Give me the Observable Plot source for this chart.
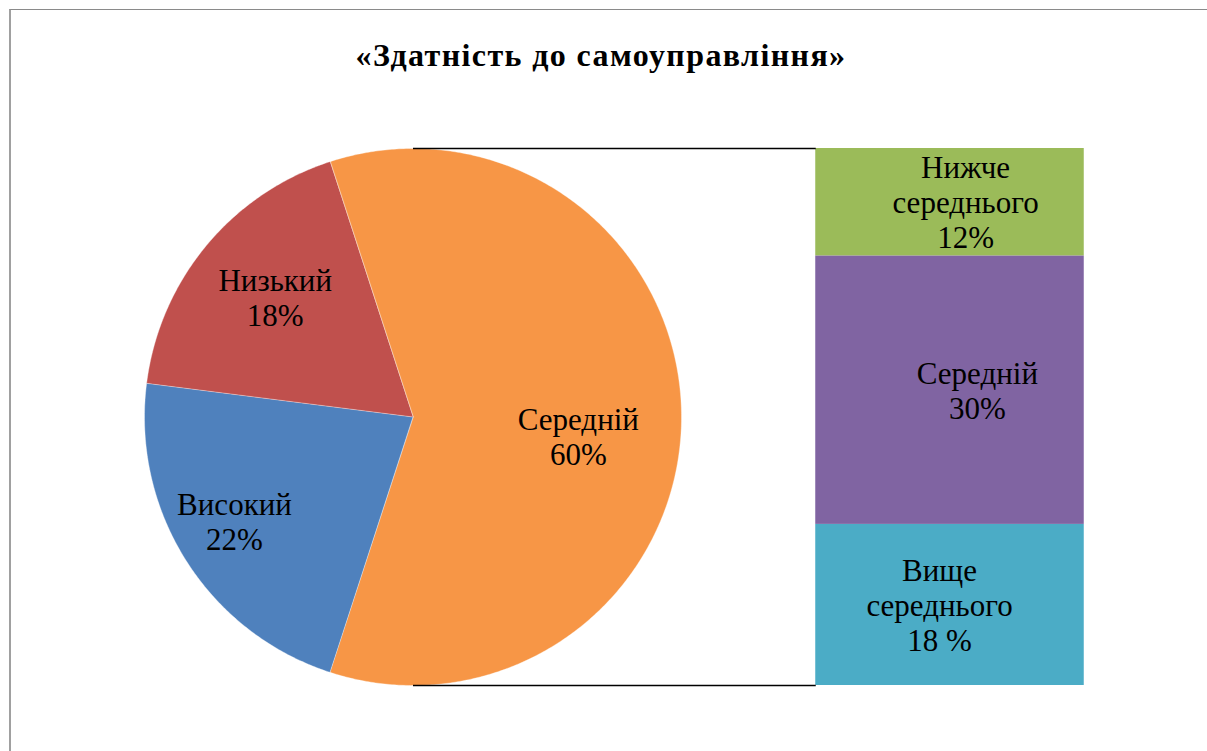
<!DOCTYPE html>
<html><head><meta charset="utf-8">
<script src="https://cdn.jsdelivr.net/npm/d3@7"></script>
<script src="https://cdn.jsdelivr.net/npm/@observablehq/plot@0.6"></script>
<style>
html,body{margin:0;padding:0;background:#fff;overflow:hidden;width:1207px;height:751px;}
#wrap{position:relative;width:1207px;height:751px;overflow:hidden;}
#chart{position:absolute;left:0;top:0;}
#frame{position:absolute;left:9px;top:9px;width:1400px;height:1000px;border-left:2px solid #a0a0a0;border-top:1px solid #8a8a8a;pointer-events:none;}
#title{position:absolute;left:0;top:39px;width:1202px;text-align:center;font-family:"Liberation Serif","Times New Roman",serif;font-weight:bold;font-size:32px;letter-spacing:1.4px;line-height:1;color:#000;}
</style></head><body>
<div id="wrap"><div id="chart"></div><div id="frame"></div><div id="title">«Здатність до самоуправління»</div></div>
<script>
// ---- data ----
const pieCategories = ["Середній", "Високий", "Низький"];
const pieValues = [60, 22, 18];
const pieLabels = ["60%", "22%", "18%"];
const barCategories = ["Вище\nсереднього", "Середній", "Нижче\nсереднього"];
const barValues = [18, 30, 12];
const barLabels = ["18 %", "30%", "12%"];

// ---- styles / layout ----
const pieColors = ["#F79646", "#4F81BD", "#C0504D"];
const barColors = ["#4BACC6", "#8064A2", "#9BBB59"];
const W = 1207, H = 751, R = 268.5, CX = 412.5, CY = 416.5;
const barX0 = 1.5, barX1 = 2.5;               // bar in pie-radius units
const labelRadius = [0.62, 0.77, 0.68];       // pie label placement (radius units)
const labelAngleShift = [6.8, 2.1, 1.4];      // degrees
const barLabelShift = [-0.039, 0.102, 0.058]; // radius units
const font = '"Liberation Serif","Times New Roman",serif';
const fontSize = 31;

// ---- geometry from data ----
const total = d3.sum(pieValues);
const start = 90 - pieValues[0] / total * 180;
let acc = start;
const slices = pieValues.map((v, i) => {
  const a0 = acc, a1 = acc + v / total * 360; acc = a1;
  return {i, a0, a1, mid: (a0 + a1) / 2, name: pieCategories[i], value: v};
});
function polygon(s) {
  const pts = [{x: 0, y: 0}];
  const n = Math.ceil((s.a1 - s.a0) / 0.5);
  for (let k = 0; k <= n; k++) {
    const a = (s.a0 + (s.a1 - s.a0) * k / n) * Math.PI / 180;
    pts.push({x: Math.sin(a), y: Math.cos(a)});
  }
  return pts;
}
const pieText = slices.map(s => {
  const a = (s.mid + labelAngleShift[s.i]) * Math.PI / 180;
  const r = labelRadius[s.i];
  return {x: r * Math.sin(a), y: r * Math.cos(a), text: pieCategories[s.i] + "\n" + pieLabels[s.i]};
});
const barTotal = d3.sum(barValues);
let cum = 0;
const barSegs = barValues.map((v, i) => {
  const y1 = -1 + 2 * cum / barTotal; cum += v;
  const y2 = -1 + 2 * cum / barTotal;
  return {i, y1, y2, x1: barX0, x2: barX1, color: barColors[i],
    text: barCategories[i] + "\n" + barLabels[i],
    tx: (barX0 + barX1) / 2 + barLabelShift[i], ty: (y1 + y2) / 2};
});

const marks = [
  ...slices.map(s => Plot.line(polygon(s), {x: "x", y: "y", curve: "linear-closed", fill: pieColors[s.i], stroke: "white", strokeWidth: 0.6, strokeOpacity: 0.6})),
  Plot.rect(barSegs, {x1: "x1", x2: "x2", y1: "y1", y2: "y2", fill: "color"}),
  Plot.link([{x1: 0, y1: 1, x2: barX0, y2: 1}, {x1: 0, y1: -1, x2: barX0, y2: -1}],
    {x1: "x1", y1: "y1", x2: "x2", y2: "y2", stroke: "black", strokeWidth: 1.3}),
  Plot.text(pieText, {x: "x", y: "y", text: "text", fontSize, lineHeight: 1.13, fill: "black", fontFamily: font, lineAnchor: "middle"}),
  Plot.text(barSegs, {x: "tx", y: "ty", text: "text", fontSize, lineHeight: 1.13, fill: "black", fontFamily: font, lineAnchor: "middle"})
];

const chart = Plot.plot({
  width: W, height: H, margin: 0,
  x: {domain: [-CX / R, (W - CX) / R], axis: null},
  y: {domain: [(CY - H) / R, CY / R], axis: null},
  color: {type: "identity"},
  style: {background: "transparent", fontFamily: font},
  marks
});
document.getElementById("chart").appendChild(chart);
</script>
</body></html>
